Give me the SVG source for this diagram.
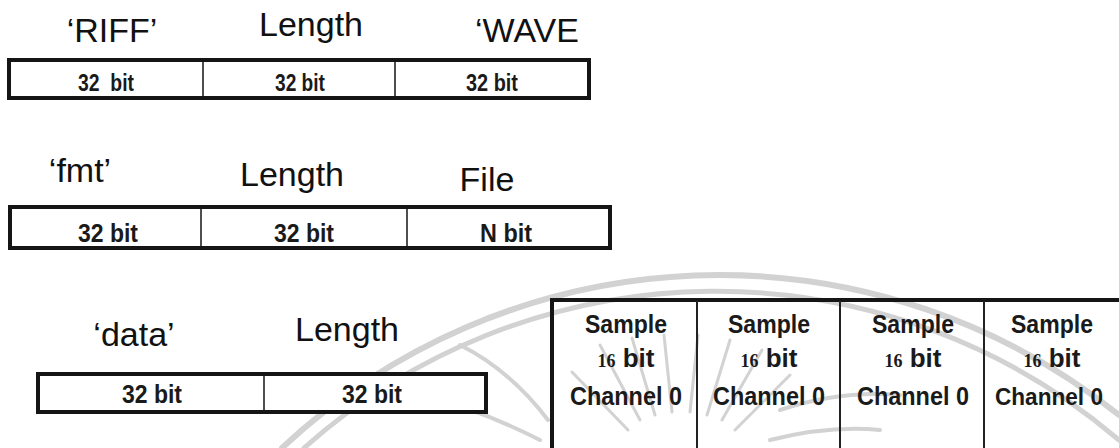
<svg xmlns="http://www.w3.org/2000/svg" width="1119" height="448" viewBox="0 0 1119 448">
  <style>
    .lbl { font-family: "Liberation Sans", Arial, sans-serif; font-size: 34px; fill: #111; text-anchor: middle; }
    .cell { font-family: "Liberation Sans", Arial, sans-serif; font-weight: bold; font-size: 24px; fill: #1a1a1a; text-anchor: middle; }
    .cell.big { font-size: 26px; }
    .tcell { font-family: "Liberation Sans", Arial, sans-serif; font-weight: bold; font-size: 26px; fill: #1a1a1a; text-anchor: middle; }
    .tcell.edge { font-size: 24px; }
    .num { font-family: "Liberation Serif", "Times New Roman", serif; font-weight: bold; font-size: 18px; }
    .frame { fill: #fff; stroke: #151515; stroke-width: 4; }
    .div { stroke: #222; stroke-width: 1.6; }
    .tline { stroke: #151515; stroke-width: 4; }
    .tdiv { stroke: #222; stroke-width: 2; }
    .wm { fill: none; stroke: #d2d2d2; stroke-linecap: round; }
  </style>

  <rect width="1119" height="448" fill="#fff"/>

  <!-- faint emblem in the background -->
  <g id="emblem">
    <path class="wm" stroke-width="6" d="M 282 448 A 640 640 0 0 1 1119 415"/>
    <path class="wm" stroke-width="5" d="M 304 448 A 620 620 0 0 1 1119 440"/>
    <g stroke-width="3" class="wm">
      <line x1="640" y1="420" x2="600" y2="345"/>
      <line x1="655" y1="415" x2="632" y2="338"/>
      <line x1="672" y1="412" x2="664" y2="335"/>
      <line x1="690" y1="412" x2="698" y2="335"/>
      <line x1="707" y1="415" x2="730" y2="340"/>
      <line x1="722" y1="420" x2="762" y2="350"/>
      <line x1="628" y1="430" x2="572" y2="372"/>
      <line x1="735" y1="430" x2="790" y2="375"/>
    </g>
    <path class="wm" stroke-width="4" d="M 425 395 Q 480 410 540 440"/>
    <path class="wm" stroke-width="4" d="M 460 345 Q 510 370 548 420"/>
    <path class="wm" stroke-width="4" d="M 780 410 Q 840 390 900 395"/>
    <path class="wm" stroke-width="4" d="M 770 440 Q 830 425 880 430"/>
  </g>

  <!-- RIFF header chunk -->
  <g id="riff-chunk">
    <text class="lbl" x="112" y="42">‘RIFF’</text>
    <text class="lbl" x="311" y="36">Length</text>
    <text class="lbl" x="527" y="42">‘WAVE</text>
    <rect class="frame" x="9" y="60" width="580" height="38"/>
    <line class="div" x1="203" y1="62" x2="203" y2="96"/>
    <line class="div" x1="395" y1="62" x2="395" y2="96"/>
    <text class="cell" x="106" y="91" textLength="56" lengthAdjust="spacingAndGlyphs" xml:space="preserve">32  bit</text>
    <text class="cell" x="300" y="91" textLength="50" lengthAdjust="spacingAndGlyphs">32 bit</text>
    <text class="cell" x="492" y="91" textLength="52" lengthAdjust="spacingAndGlyphs">32 bit</text>
  </g>

  <!-- fmt sub-chunk -->
  <g id="fmt-chunk">
    <text class="lbl" x="80" y="182">‘fmt’</text>
    <text class="lbl" x="292" y="186">Length</text>
    <text class="lbl" x="487" y="191">File</text>
    <rect class="frame" x="10" y="207" width="600" height="41"/>
    <line class="div" x1="201" y1="209" x2="201" y2="246"/>
    <line class="div" x1="407" y1="209" x2="407" y2="246"/>
    <text class="cell big" x="108" y="242" textLength="60" lengthAdjust="spacingAndGlyphs">32 bit</text>
    <text class="cell big" x="304" y="242" textLength="60" lengthAdjust="spacingAndGlyphs">32 bit</text>
    <text class="cell big" x="506" y="242" textLength="52" lengthAdjust="spacingAndGlyphs">N bit</text>
  </g>

  <!-- data sub-chunk -->
  <g id="data-chunk">
    <text class="lbl" x="134" y="346">‘data’</text>
    <text class="lbl" x="347" y="341">Length</text>
    <rect class="frame" x="38" y="374" width="448" height="38"/>
    <line class="div" x1="264" y1="376" x2="264" y2="410"/>
    <text class="cell big" x="152" y="403" textLength="60" lengthAdjust="spacingAndGlyphs">32 bit</text>
    <text class="cell big" x="372" y="403" textLength="60" lengthAdjust="spacingAndGlyphs">32 bit</text>
  </g>

  <!-- sample table -->
  <g id="sample-table">
    <line class="tline" x1="550" y1="300" x2="1119" y2="300"/>
    <line class="tline" x1="552" y1="298" x2="552" y2="448"/>
    <line class="tdiv" x1="697" y1="301" x2="697" y2="448"/>
    <line class="tdiv" x1="840" y1="301" x2="840" y2="448"/>
    <line class="tdiv" x1="984" y1="301" x2="984" y2="448"/>
  </g>
  <g id="sample-1">
    <text class="tcell" x="626" y="333" textLength="82" lengthAdjust="spacingAndGlyphs">Sample</text>
    <text class="tcell" x="626" y="367"><tspan class="num">16</tspan> bit</text>
    <text class="tcell" x="626" y="405" textLength="112" lengthAdjust="spacingAndGlyphs">Channel 0</text>
  </g>
  <g id="sample-2">
    <text class="tcell" x="769" y="333" textLength="82" lengthAdjust="spacingAndGlyphs">Sample</text>
    <text class="tcell" x="769" y="367"><tspan class="num">16</tspan> bit</text>
    <text class="tcell" x="769" y="405" textLength="112" lengthAdjust="spacingAndGlyphs">Channel 0</text>
  </g>
  <g id="sample-3">
    <text class="tcell" x="913" y="333" textLength="82" lengthAdjust="spacingAndGlyphs">Sample</text>
    <text class="tcell" x="913" y="367"><tspan class="num">16</tspan> bit</text>
    <text class="tcell" x="913" y="405" textLength="112" lengthAdjust="spacingAndGlyphs">Channel 0</text>
  </g>
  <g id="sample-4">
    <text class="tcell" x="1052" y="333" textLength="82" lengthAdjust="spacingAndGlyphs">Sample</text>
    <text class="tcell" x="1052" y="367"><tspan class="num">16</tspan> bit</text>
    <text class="tcell edge" x="1049" y="405" textLength="108" lengthAdjust="spacingAndGlyphs">Channel 0</text>
  </g>
</svg>
